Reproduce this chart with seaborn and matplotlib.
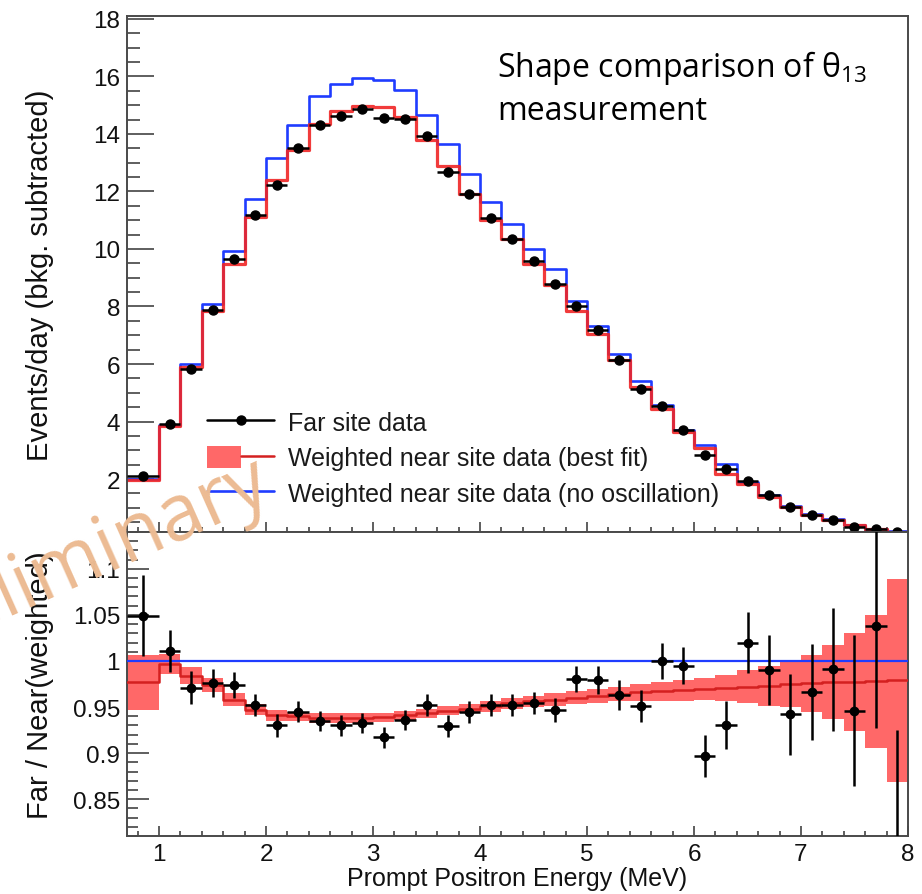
import numpy as np
import pandas as pd
import matplotlib
matplotlib.use("Agg")
import matplotlib.pyplot as plt
import seaborn as sns
from matplotlib.lines import Line2D
from matplotlib.patches import Patch
from matplotlib.legend_handler import HandlerTuple
from matplotlib.ticker import MultipleLocator, FuncFormatter

# ---------------- data ----------------
bin_edges = [0.7, 1.0, 1.2, 1.4, 1.6, 1.8, 2.0, 2.2, 2.4, 2.6, 2.8, 3.0, 3.2,
             3.4, 3.6, 3.8, 4.0, 4.2, 4.4, 4.6, 4.8, 5.0, 5.2, 5.4, 5.6, 5.8,
             6.0, 6.2, 6.4, 6.6, 6.8, 7.0, 7.2, 7.4, 7.6, 7.8, 8.0]
bin_centers = [0.85, 1.1, 1.3, 1.5, 1.7, 1.9, 2.1, 2.3, 2.5, 2.7, 2.9, 3.1,
               3.3, 3.5, 3.7, 3.9, 4.1, 4.3, 4.5, 4.7, 4.9, 5.1, 5.3, 5.5,
               5.7, 5.9, 6.1, 6.3, 6.5, 6.7, 6.9, 7.1, 7.3, 7.5, 7.7, 7.9]

far_events = [2.10, 3.91, 5.83, 7.88, 9.65, 11.18, 12.22, 13.51, 14.31, 14.62,
              14.87, 14.56, 14.52, 13.93, 12.68, 11.91, 11.08, 10.35, 9.58,
              8.78, 8.02, 7.18, 6.14, 5.13, 4.54, 3.70, 2.83, 2.35, 1.93, 1.44,
              1.03, 0.75, 0.57, 0.35, 0.26, 0.17]
bestfit_events = [1.97, 3.86, 5.90, 7.84, 9.48, 11.11, 12.40, 13.44, 14.35,
                  14.80, 14.97, 14.94, 14.59, 13.79, 12.89, 11.91, 11.00, 10.35,
                  9.48, 8.74, 7.84, 7.04, 6.13, 5.20, 4.43, 3.63, 3.08, 2.17,
                  1.83, 1.37, 1.03, 0.75, 0.57, 0.40, 0.26, 0.17]
noosc_events = [2.00, 3.87, 6.01, 8.08, 9.92, 11.74, 13.15, 14.30, 15.31, 15.75,
                15.95, 15.89, 15.52, 14.65, 13.65, 12.61, 11.63, 10.87, 10.00,
                9.30, 8.19, 7.32, 6.35, 5.41, 4.57, 3.70, 3.18, 2.52, 1.90,
                1.44, 1.07, 0.80, 0.60, 0.40, 0.27, 0.19]

ratio_data = [1.049, 1.011, 0.971, 0.976, 0.974, 0.952, 0.930, 0.945, 0.935,
              0.930, 0.933, 0.917, 0.936, 0.952, 0.929, 0.945, 0.952, 0.952,
              0.954, 0.947, 0.980, 0.979, 0.963, 0.951, 1.000, 0.995, 0.897,
              0.930, 1.020, 0.990, 0.942, 0.966, 0.991, 0.946, 1.038, 0.800]
ratio_err = [0.044, 0.023, 0.018, 0.015, 0.014, 0.012, 0.012, 0.011, 0.011,
             0.011, 0.011, 0.011, 0.011, 0.012, 0.012, 0.012, 0.012, 0.012,
             0.012, 0.013, 0.014, 0.015, 0.016, 0.017, 0.020, 0.020, 0.023,
             0.026, 0.033, 0.038, 0.044, 0.052, 0.067, 0.082, 0.111, 0.125]
ratio_fit = [0.977, 0.997, 0.984, 0.974, 0.958, 0.947, 0.941, 0.940, 0.938,
             0.938, 0.938, 0.939, 0.941, 0.943, 0.946, 0.948, 0.951, 0.954,
             0.956, 0.958, 0.960, 0.962, 0.964, 0.966, 0.967, 0.968, 0.970,
             0.971, 0.972, 0.973, 0.975, 0.976, 0.977, 0.977, 0.978, 0.979]
ratio_fit_err = [0.030, 0.011, 0.009, 0.008, 0.007, 0.006, 0.006, 0.005, 0.005,
                 0.005, 0.005, 0.005, 0.005, 0.005, 0.005, 0.005, 0.006, 0.006,
                 0.006, 0.007, 0.007, 0.008, 0.008, 0.009, 0.010, 0.011, 0.012,
                 0.014, 0.018, 0.022, 0.025, 0.031, 0.040, 0.053, 0.072, 0.110]

top_yticks = [2, 4, 6, 8, 10, 12, 14, 16, 18]
ratio_yticks = [0.85, 0.9, 0.95, 1.0, 1.05, 1.1]
x_ticks = [1, 2, 3, 4, 5, 6, 7, 8]

legend_labels = ["Far site data",
                 "Weighted near site data (best fit)",
                 "Weighted near site data (no oscillation)"]

# ---------------- style ----------------
sns.set_style("ticks")
plt.rcParams["font.family"] = ["Liberation Sans", "DejaVu Sans"]
plt.rcParams["mathtext.fontset"] = "custom"
plt.rcParams["mathtext.rm"] = "Open Sans"

BLUE = "#1f3cff"
RED = "#f02525"
BAND = "#ff6868"
FRAME = "#4a4a4a"

df = pd.DataFrame({"E": bin_centers, "far": far_events, "fit": bestfit_events,
                   "noosc": noosc_events, "r": ratio_data, "rerr": ratio_err,
                   "rfit": ratio_fit, "rfiterr": ratio_fit_err})
widths = np.diff(bin_edges)

fig = plt.figure(figsize=(9.22, 8.95), dpi=100)
ax_top = fig.add_axes([0.1377, 0.4045, 0.8471, 0.5765])
ax_bot = fig.add_axes([0.1377, 0.0648, 0.8471, 0.3397])

# ---------------- top panel ----------------
sns.histplot(data=df, x="E", weights="noosc", bins=bin_edges, element="step",
             fill=False, color=BLUE, linewidth=1.9, ax=ax_top)
sns.histplot(data=df, x="E", weights="fit", bins=bin_edges, element="step",
             fill=False, color=RED, linewidth=2.3, alpha=0.9, ax=ax_top)
ax_top.errorbar(df["E"], df["far"], xerr=widths / 2, fmt="o", color="black",
                ms=6.5, elinewidth=1.8, capsize=0, zorder=5)

ax_top.set_xlim(0.7, 8.0)
ax_top.set_ylim(0.16, 18.1)
ax_top.set_yticks(top_yticks)
ax_top.yaxis.set_minor_locator(MultipleLocator(0.5))
ax_top.set_xticks(x_ticks)
ax_top.xaxis.set_minor_locator(MultipleLocator(0.2))
ax_top.tick_params(axis="x", labelbottom=False)
ax_top.set_xlabel("")
ax_top.set_ylabel("Events/day (bkg. subtracted)", fontsize=21, color="#111111")
ax_top.yaxis.set_label_coords(-0.093, 0.5)

h_far = Line2D([], [], color="black", marker="o", ms=6.5, lw=1.8)
h_fit = (Patch(facecolor=BAND, edgecolor="none"), Line2D([], [], color="#d42020", lw=1.8))
h_noosc = Line2D([], [], color=BLUE, lw=1.9)
leg = ax_top.legend([h_far, h_fit, h_noosc], legend_labels,
                    handler_map={tuple: HandlerTuple(ndivide=None, pad=0)},
                    loc="upper left", bbox_to_anchor=(0.1024, 0.236),
                    frameon=False, fontsize=18, handlelength=2.7,
                    handleheight=1.0, handletextpad=0.55, labelspacing=0.43,
                    borderpad=0, borderaxespad=0)
for t in leg.get_texts():
    t.set_color("#1a1a1a")

# ---------------- ratio panel ----------------
ax_bot.bar(df["E"], 2 * df["rfiterr"], bottom=df["rfit"] - df["rfiterr"],
           width=widths, color=BAND, linewidth=0, zorder=2)
sns.histplot(data=df, x="E", weights="rfit", bins=bin_edges, element="step",
             fill=False, color="#d42020", linewidth=1.8, ax=ax_bot, zorder=3)
ax_bot.axhline(1.0, color=BLUE, lw=1.6, zorder=4)
ax_bot.errorbar(df["E"], df["r"], yerr=df["rerr"], xerr=widths / 2, fmt="o",
                color="black", ms=6, elinewidth=1.8, capsize=0, zorder=5)

ax_bot.set_xlim(0.7, 8.0)
ax_bot.set_ylim(0.81, 1.14)
ax_bot.set_yticks(ratio_yticks)
ax_bot.yaxis.set_minor_locator(MultipleLocator(0.01))
ax_bot.yaxis.set_major_formatter(FuncFormatter(lambda v, p: f"{v:g}"))
ax_bot.set_xticks(x_ticks)
ax_bot.xaxis.set_minor_locator(MultipleLocator(0.2))
ax_bot.set_ylabel("Far / Near(weighted)", fontsize=21, color="#111111")
ax_bot.yaxis.set_label_coords(-0.093, 0.5)
ax_bot.set_xlabel("Prompt Positron Energy (MeV)", fontsize=18, color="#111111")
ax_bot.xaxis.set_label_coords(0.5, -0.098)

# ---------------- frames & ticks ----------------
for ax, ymaj, ymin in ((ax_top, 19.5, 9.5), (ax_bot, 16, 8)):
    for s in ax.spines.values():
        s.set_visible(True)
        s.set_color(FRAME)
        s.set_linewidth(1.4)
    ax.tick_params(axis="both", which="both", direction="in", colors="#333333",
                   labelcolor="#111111", labelsize=17.5, width=1.1)
    ax.tick_params(axis="y", which="major", length=ymaj, pad=5)
    ax.tick_params(axis="y", which="minor", length=ymin)
    ax.tick_params(axis="x", which="major", length=7, pad=5)
    ax.tick_params(axis="x", which="minor", length=3.6)
    ax.tick_params(top=False, right=False, which="both")
    ax.set_facecolor("white")

# ---------------- annotations ----------------
fig.text(0.539, 0.914, "Shape comparison of θ$\\mathregular{_{13}}$",
         fontsize=23, family="Open Sans", color="black", ha="left", va="baseline")
fig.text(0.539, 0.866, "measurement", fontsize=23, family="Open Sans",
         color="black", ha="left", va="baseline")
fig.text(-0.114, 0.257, "Preliminary", rotation=24, rotation_mode="anchor",
         ha="left", va="baseline", fontsize=56, family="Open Sans",
         color="#ecbb93", zorder=20)

fig.savefig("out.png", dpi=100, facecolor="white")
